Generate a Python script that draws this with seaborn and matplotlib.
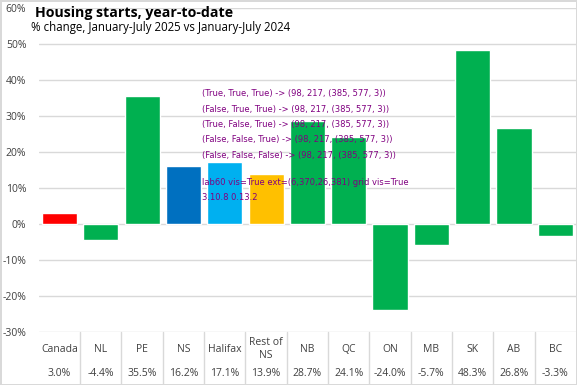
import matplotlib
matplotlib.use("Agg")
import matplotlib.pyplot as plt
from matplotlib.lines import Line2D
import seaborn as sns
import pandas as pd
import numpy as np

categories = ["Canada", "NL", "PE", "NS", "Halifax", "Rest of\nNS", "NB", "QC", "ON", "MB", "SK", "AB", "BC"]
values = [3.0, -4.4, 35.5, 16.2, 17.1, 13.9, 28.7, 24.1, -24.0, -5.7, 48.3, 26.8, -3.3]
value_labels = ["3.0%", "-4.4%", "35.5%", "16.2%", "17.1%", "13.9%", "28.7%", "24.1%", "-24.0%", "-5.7%", "48.3%", "26.8%", "-3.3%"]
colors = ["#FF0000", "#00B050", "#00B050", "#0070C0", "#00B0F0", "#FFC000",
          "#00B050", "#00B050", "#00B050", "#00B050", "#00B050", "#00B050", "#00B050"]
yticks = [-30, -20, -10, 0, 10, 20, 30, 40, 50, 60]

title = "Housing starts, year-to-date"
subtitle = "% change, January-July 2025 vs January-July 2024"

W, H = 577, 385


def fy(py):
    return 1 - py / H


def build(with_table=True, with_titles=True, border=True):
    sns.set_style("white")
    plt.rcParams["font.family"] = ["Open Sans", "DejaVu Sans"]
    fig = plt.figure(figsize=(W / 100, H / 100), dpi=100)
    if border:
        fig.patch.set_edgecolor("#D9D9D9")
        fig.patch.set_linewidth(1)
    ax = fig.add_axes([38.8 / W, 1 - 332 / H, (576 - 38.8) / W, 324 / H])
    df = pd.DataFrame({"cat": categories, "val": values})
    sns.barplot(data=df, x="cat", y="val", hue="cat", palette=colors, legend=False,
                width=0.85, ax=ax, saturation=1)
    ax.set_xticks([])
    ax.set_xlabel("")
    ax.set_ylabel("")
    for s in ax.spines.values():
        s.set_visible(False)
    ax.set_xlim(-0.5, len(categories) - 0.5)
    ax.set_ylim(-30, 60)
    ax.set_yticks(yticks)
    ax.set_yticklabels([f"{t}%" for t in yticks], fontsize=7.5, color="#404040")
    ax.tick_params(axis="y", length=0, pad=9)
    ax.grid(axis="y", color="#D9D9D9", linewidth=1)
    ax.set_axisbelow(True)
    to_fig = ax.transData + fig.transFigure.inverted()
    def fx(i):
        return to_fig.transform((i, 0))[0]
    if with_table:
        for i, (c, v) in enumerate(zip(categories, value_labels)):
            fig.text(fx(i), fy(349), c, ha="center", va="center",
                     fontsize=7.5, color="#404040", linespacing=1.3)
            fig.text(fx(i), fy(374), v, ha="center", va="center",
                     fontsize=7.5, color="#404040")
        for i in range(len(categories) - 1):
            xx = fx(i + 0.5)
            fig.add_artist(Line2D([xx, xx], [fy(332), fy(384)], color="#D9D9D9",
                                  linewidth=1, transform=fig.transFigure))
    if with_titles:
        fig.text(35 / W, fy(13), title, ha="left", va="center", fontsize=10.2,
                 fontweight="bold", color="black")
        fig.text(31 / W, fy(28), subtitle, ha="left", va="center", fontsize=8.3,
                 color="black")
    return fig, ax


def probe(fig):
    fig.canvas.draw()
    buf = np.asarray(fig.canvas.buffer_rgba())[:, :, :3]
    return int(buf[1:17, 3:33].min()), int(buf[6:11, 300:570].min()), buf.shape


results = []
for args in [(True, True, True), (False, True, True), (True, False, True),
             (False, False, True), (False, False, False)]:
    f, a = build(*args)
    results.append((args, probe(f)))
    plt.close(f)

fig, ax = build(True, True, True)
fig.canvas.draw()
r = fig.canvas.get_renderer()
extra = ""
for t in ax.yaxis._update_ticks():
    if abs(t.get_loc() - 60) < 1e-6:
        e = t.label1.get_window_extent(r)
        extra = f"lab60 vis={t.label1.get_visible()} ext=({e.x0:.0f},{e.y0:.0f},{e.x1:.0f},{e.y1:.0f}) grid vis={t.gridline.get_visible()}"
for k, (args, res) in enumerate(results):
    fig.text(0.35, 0.75 - 0.04 * k, f"{args} -> {res}", fontsize=6, family="DejaVu Sans", color="purple")
fig.text(0.35, 0.52, extra, fontsize=6, family="DejaVu Sans", color="purple")
fig.text(0.35, 0.48, matplotlib.__version__ + " " + sns.__version__, fontsize=6, family="DejaVu Sans", color="purple")
fig.savefig("out.png", dpi=100)
